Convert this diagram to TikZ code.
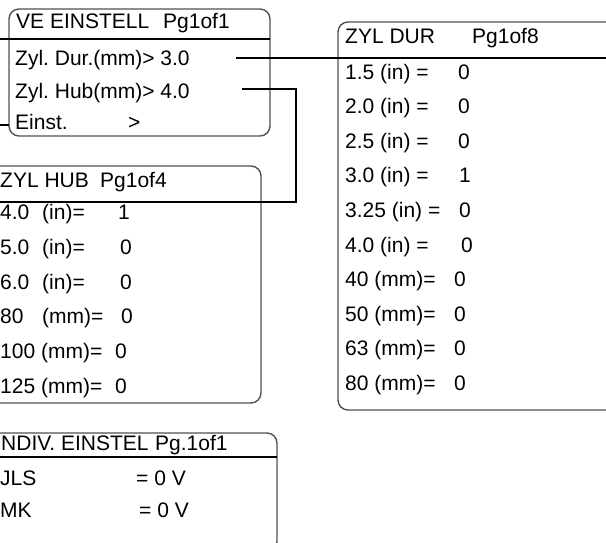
\documentclass[tikz,border=0pt]{standalone}
\usepackage{fontspec}
\setmainfont{Liberation Sans}
\definecolor{boxgray}{HTML}{505050}
\begin{document}
\frenchspacing
\begin{tikzpicture}[x=1pt,y=-1pt,
  box/.style={draw=boxgray, line width=1.4pt, rounded corners=10pt},
  bar/.style={draw=black, line width=2.2pt},
  txt/.style={anchor=base west, inner sep=0pt, font=\fontsize{21}{25}\selectfont}]
\useasboundingbox (0,0) rectangle (606,542);
\clip (0,0) rectangle (606,542);

% boxes
\draw[box] (9,9) rectangle (270,136);
\draw[box] (630,22) -- (338,22) -- (338,410) -- (630,410);
\draw[box] (-30,166) -- (261,166) -- (261,403) -- (-30,403);
\draw[box] (-30,433) -- (277,433) -- (277,552) -- (-30,552);

% connector end points
\coordinate (sepA) at (0,39);
\coordinate (sepB) at (270,39);
\coordinate (durA) at (236,58);
\coordinate (durB) at (606,58);
\coordinate (hubA) at (242,89);
\coordinate (hubB) at (296,202);
\coordinate (hubC) at (0,202);
\coordinate (einA) at (0,125);
\coordinate (einB) at (9,125);
\coordinate (indA) at (0,457);
\coordinate (indB) at (277,457);

\draw[bar] (sepA) -- (sepB);
\draw[bar] (durA) -- (durB);
\draw[bar] (hubA) -| (hubB) -- (hubC);
\draw[bar] (einA) -- (einB);
\draw[bar] (indA) -- (indB);

% box 1
\node[txt] (b1h) at (16,28) {VE EINSTELL};
\node[txt] (b1p) at (163,28) {Pg1of1};
\node[txt] (b1r1) at (15,65) {Zyl. Dur.(mm)> 3.0};
\node[txt] (b1r2) at (15,98) {Zyl. Hub(mm)> 4.0};
\node[txt] (b1r3) at (15,129) {Einst.};
\node[txt] (b1r3v) at (128,129) {>};

% ZYL DUR
\node[txt] (dh) at (345,43) {ZYL DUR};
\node[txt] (dp) at (472,43) {Pg1of8};
\foreach \lab/\val/\vx [count=\i from 0] in
  {1.5 (in) =/0/458, 2.0 (in) =/0/458, 2.5 (in) =/0/458, 3.0 (in) =/1/459,
   3.25 (in) =/0/459, 4.0 (in) =/0/461, 40 (mm)=/0/454, 50 (mm)=/0/454,
   63 (mm)=/0/454, 80 (mm)=/0/454}{
  \node[txt] (dl\i) at (345,79+34.6*\i) {\lab};
  \node[txt] (dv\i) at (\vx,79+34.6*\i) {\val};
}

% ZYL HUB
\node[txt] (hh) at (0,187) {ZYL HUB};
\node[txt] (hp) at (100,187) {Pg1of4};
\node[txt] (hl0) at (0,219) {4.0};
\node[txt] (hu0) at (42,219) {(in)=};
\node[txt] (hv0) at (118,219) {1};
\node[txt] (hl1) at (0,254) {5.0};
\node[txt] (hu1) at (42,254) {(in)=};
\node[txt] (hv1) at (120,254) {0};
\node[txt] (hl2) at (0,289) {6.0};
\node[txt] (hu2) at (42,289) {(in)=};
\node[txt] (hv2) at (120,289) {0};
\node[txt] (hl3) at (0,323) {80};
\node[txt] (hu3) at (42,323) {(mm)=};
\node[txt] (hv3) at (121,323) {0};
\node[txt] (hl4) at (0,358) {100 (mm)=};
\node[txt] (hv4) at (115,358) {0};
\node[txt] (hl5) at (0,393) {125 (mm)=};
\node[txt] (hv5) at (115,393) {0};

% INDIV
\node[txt] (ih) at (1,450) {NDIV. EINSTEL};
\node[txt] (ip) at (155,450) {Pg.1of1};
\node[txt] (il0) at (0,485) {JLS};
\node[txt] (iv0) at (136,485) {= 0 V};
\node[txt] (il1) at (0,517) {MK};
\node[txt] (iv1) at (139,517) {= 0 V};
\end{tikzpicture}
\end{document}
